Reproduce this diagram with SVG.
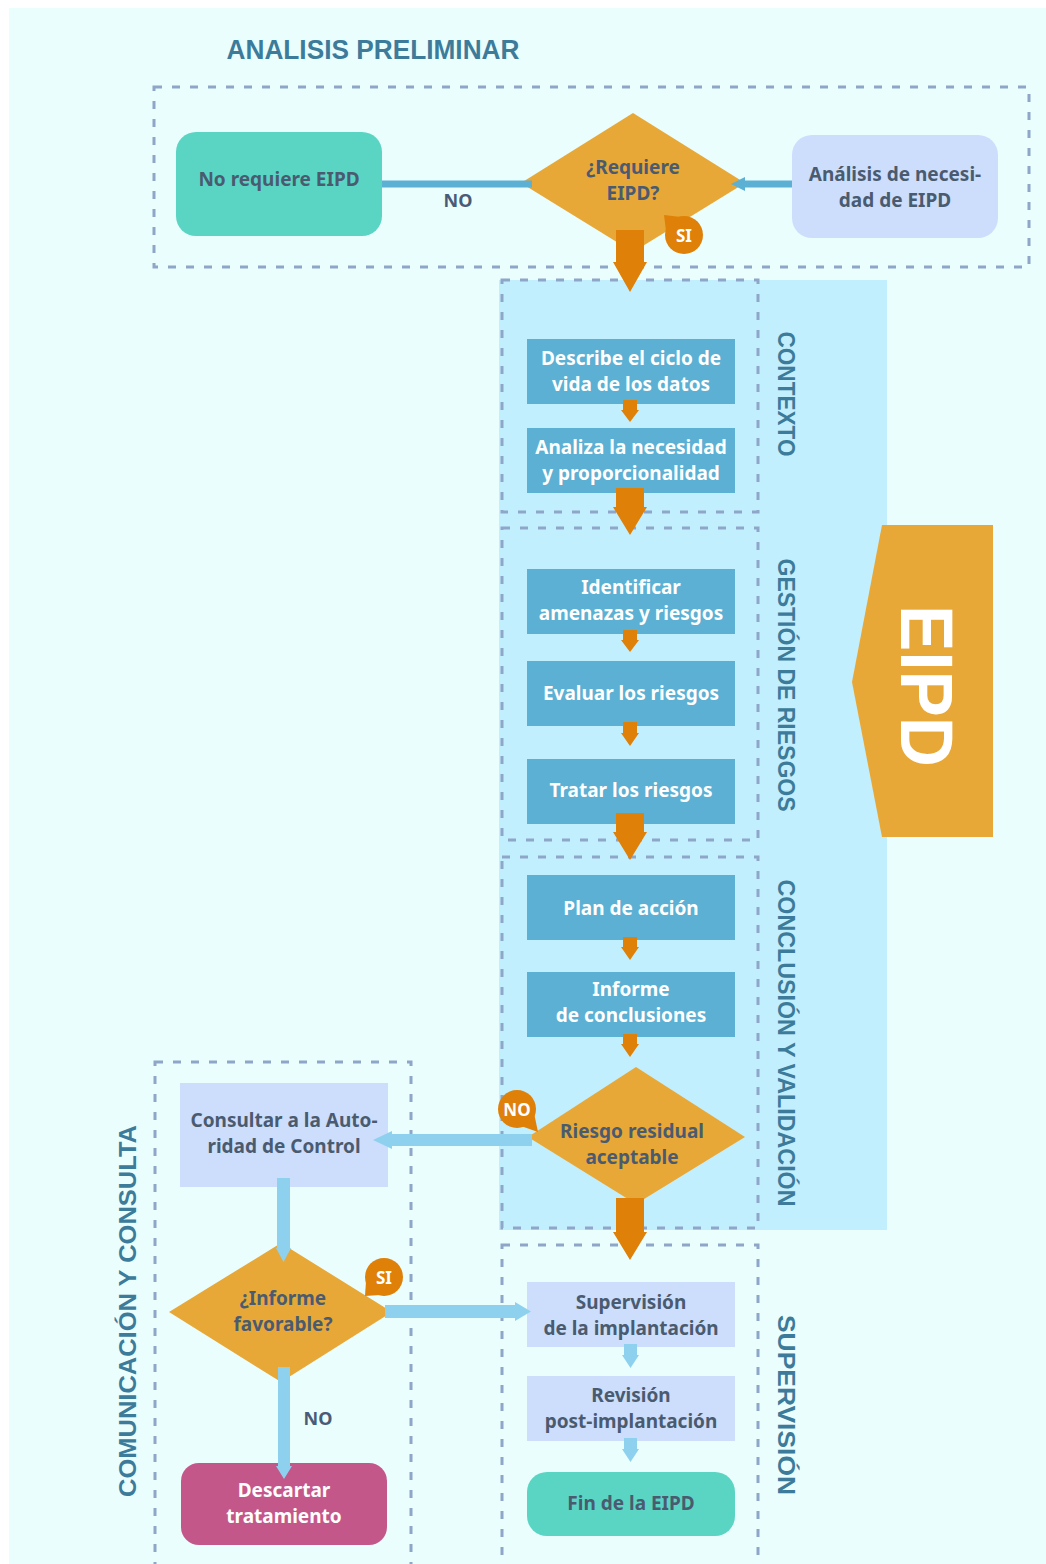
<svg xmlns="http://www.w3.org/2000/svg" width="1046" height="1564" viewBox="0 0 1046 1564">
  <style>
    .frame { fill: none; stroke: #8EA6C8; stroke-width: 3; stroke-dasharray: 8 10; }
    .txt { font-family: "Noto Sans", "Open Sans", "Liberation Sans", sans-serif; font-weight: 700; text-anchor: middle; dominant-baseline: central; }
    .dark { fill: #4A5B70; font-size: 19px; }
    .light { fill: #FFFFFF; font-size: 19px; }
    .lbl { fill: #4A5B78; font-size: 18px; }
    .head { font-family: "Liberation Sans", "Noto Sans", sans-serif; font-weight: 700; fill: #3D7B9A; text-anchor: middle; dominant-baseline: central; }
    .step { fill: #5BB0D3; }
    .pale { fill: #CCDEFC; }
    .teal { fill: #5AD5C4; }
    .diamond { fill: #E8A838; }
    .orange { fill: #DF8008; }
    .sky { fill: #8ED1EF; }
    .badge { fill: #DF8008; }
    .badgetxt { font-family: "Noto Sans", "Liberation Sans", sans-serif; font-weight: 700; fill: #FFFFFF; font-size: 17px; text-anchor: middle; dominant-baseline: central; }
  </style>

  <!-- page background -->
  <rect x="9" y="8" width="1037" height="1556" fill="#EAFEFE"/>

  <!-- EIPD band behind the main column -->
  <rect x="499" y="280" width="388" height="950" fill="#C2EFFD"/>

  <!-- section frames -->
  <g id="frames">
    <rect class="frame" x="154" y="87" width="875" height="180"/>
    <rect class="frame" x="502" y="280" width="256" height="232"/>
    <rect class="frame" x="502" y="528" width="256" height="312"/>
    <rect class="frame" x="502" y="857" width="256" height="371"/>
    <rect class="frame" x="502" y="1245" width="256" height="340"/>
    <rect class="frame" x="155" y="1062" width="256" height="520"/>
  </g>

  <!-- section titles -->
  <g id="titles">
    <text class="head" x="373" y="50" font-size="27" textLength="293" lengthAdjust="spacingAndGlyphs">ANALISIS PRELIMINAR</text>
    <text class="head" font-size="23" transform="translate(786 394) rotate(90)" textLength="125" lengthAdjust="spacingAndGlyphs">CONTEXTO</text>
    <text class="head" font-size="23" transform="translate(786 685) rotate(90)" textLength="253" lengthAdjust="spacingAndGlyphs">GESTIÓN DE RIESGOS</text>
    <text class="head" font-size="23" transform="translate(786 1043) rotate(90)" textLength="327" lengthAdjust="spacingAndGlyphs">CONCLUSIÓN Y VALIDACIÓN</text>
    <text class="head" font-size="23" transform="translate(786 1405) rotate(90)" textLength="180" lengthAdjust="spacingAndGlyphs">SUPERVISIÓN</text>
    <text class="head" font-size="24" transform="translate(127 1311) rotate(-90)" textLength="372" lengthAdjust="spacingAndGlyphs">COMUNICACIÓN Y CONSULTA</text>
  </g>

  <!-- EIPD banner -->
  <g id="eipd-banner">
    <polygon points="882,525 993,525 993,837 882,837 852,682" fill="#E8A838"/>
    <text class="head" style="fill:#FFFFFF" font-size="74" transform="translate(926 686) rotate(90)" textLength="162" lengthAdjust="spacingAndGlyphs">EIPD</text>
  </g>

  <!-- nodes -->
  <g id="no-requiere">
    <rect class="teal" x="176" y="132" width="206" height="104" rx="20"/>
    <text class="txt dark" x="279" y="179">No requiere EIPD</text>
  </g>

  <g id="requiere-eipd">
    <polygon class="diamond" points="633,113 745,183 633,252 521,183"/>
    <text class="txt dark" x="633" y="167">¿Requiere</text>
    <text class="txt dark" x="633" y="193">EIPD?</text>
  </g>

  <g id="analisis-necesidad">
    <rect class="pale" x="792" y="135" width="206" height="103" rx="20"/>
    <text class="txt dark" x="895" y="174">Análisis de necesi-</text>
    <text class="txt dark" x="895" y="200">dad de EIPD</text>
  </g>

  <g id="badge-si-1">
    <polygon class="badge" points="681,217 666,231 664,215"/>
    <circle class="badge" cx="684" cy="235" r="19"/>
    <text class="badgetxt" x="684" y="235">SI</text>
  </g>

  <g id="ciclo-vida">
    <rect class="step" x="527" y="339" width="208" height="65"/>
    <text class="txt light" x="631" y="358">Describe el ciclo de</text>
    <text class="txt light" x="631" y="384">vida de los datos</text>
  </g>

  <g id="necesidad-proporcionalidad">
    <rect class="step" x="527" y="428" width="208" height="65"/>
    <text class="txt light" x="631" y="447">Analiza la necesidad</text>
    <text class="txt light" x="631" y="473">y proporcionalidad</text>
  </g>

  <g id="identificar-amenazas">
    <rect class="step" x="527" y="569" width="208" height="65"/>
    <text class="txt light" x="631" y="587">Identificar</text>
    <text class="txt light" x="631" y="613">amenazas y riesgos</text>
  </g>

  <g id="evaluar-riesgos">
    <rect class="step" x="527" y="661" width="208" height="65"/>
    <text class="txt light" x="631" y="693">Evaluar los riesgos</text>
  </g>

  <g id="tratar-riesgos">
    <rect class="step" x="527" y="759" width="208" height="65"/>
    <text class="txt light" x="631" y="790">Tratar los riesgos</text>
  </g>

  <g id="plan-accion">
    <rect class="step" x="527" y="875" width="208" height="65"/>
    <text class="txt light" x="631" y="908">Plan de acción</text>
  </g>

  <g id="informe-conclusiones">
    <rect class="step" x="527" y="972" width="208" height="65"/>
    <text class="txt light" x="631" y="989">Informe</text>
    <text class="txt light" x="631" y="1015">de conclusiones</text>
  </g>

  <g id="riesgo-residual">
    <polygon class="diamond" points="636,1067 745,1137 636,1204 528,1137"/>
    <text class="txt dark" x="632" y="1131">Riesgo residual</text>
    <text class="txt dark" x="632" y="1157">aceptable</text>
  </g>

  <g id="consultar-autoridad">
    <rect class="pale" x="180" y="1083" width="208" height="104"/>
    <text class="txt dark" x="284" y="1120">Consultar a la Auto-</text>
    <text class="txt dark" x="284" y="1146">ridad de Control</text>
  </g>

  <g id="informe-favorable">
    <polygon class="diamond" points="281,1243 392,1312 281,1382 169,1312"/>
    <text class="txt dark" x="283" y="1298">¿Informe</text>
    <text class="txt dark" x="283" y="1324">favorable?</text>
  </g>

  <g id="descartar-tratamiento">
    <rect x="181" y="1463" width="206" height="82" rx="18" fill="#C4578A"/>
    <text class="txt light" x="284" y="1490">Descartar</text>
    <text class="txt light" x="284" y="1516">tratamiento</text>
  </g>

  <g id="supervision-implantacion">
    <rect class="pale" x="527" y="1282" width="208" height="65"/>
    <text class="txt dark" x="631" y="1302">Supervisión</text>
    <text class="txt dark" x="631" y="1328">de la implantación</text>
  </g>

  <g id="revision-post">
    <rect class="pale" x="527" y="1376" width="208" height="65"/>
    <text class="txt dark" x="631" y="1395">Revisión</text>
    <text class="txt dark" x="631" y="1421">post-implantación</text>
  </g>

  <g id="fin-eipd">
    <rect class="teal" x="527" y="1472" width="208" height="64" rx="20"/>
    <text class="txt dark" x="631" y="1503">Fin de la EIPD</text>
  </g>

  <!-- connectors -->
  <g id="connectors">
    <!-- preliminary analysis -->
    <line x1="382" y1="184" x2="532" y2="184" stroke="#5BB0D3" stroke-width="7"/>
    <line x1="742" y1="184" x2="792" y2="184" stroke="#5BB0D3" stroke-width="7"/>
    <polygon points="731,184 745,177 745,191" fill="#5BB0D3"/>
    <text class="txt lbl" x="458" y="200">NO</text>

    <!-- thick orange flow arrows -->
    <path class="orange" d="M616,230 H644 V262 H647 L630,292 L613,262 H616 Z"/>
    <path class="orange" d="M616,488 H644 V507 H647 L630,535 L613,507 H616 Z"/>
    <path class="orange" d="M616,813 H644 V832 H647 L630,860 L613,832 H616 Z"/>
    <path class="orange" d="M616,1198 H644 V1232 H647 L630,1260 L613,1232 H616 Z"/>

    <!-- small orange step arrows -->
    <path class="orange" d="M623,400 H637 V410 H639 L630,422 L621,410 H623 Z"/>
    <path class="orange" d="M623,630 H637 V640 H639 L630,652 L621,640 H623 Z"/>
    <path class="orange" d="M623,722 H637 V733 H639 L630,746 L621,733 H623 Z"/>
    <path class="orange" d="M623,937 H637 V947 H639 L630,960 L621,947 H623 Z"/>
    <path class="orange" d="M623,1034 H637 V1044 H639 L630,1057 L621,1044 H623 Z"/>

    <!-- light blue arrows -->
    <path class="sky" d="M532,1134 V1146 H392 V1149 L373,1140 L392,1131 V1134 Z"/>
    <path class="sky" d="M277,1178 H290 V1248 H291 L283.5,1262 L276,1248 H277 Z"/>
    <path class="sky" d="M385,1305 V1318 H515 V1321 L531,1311.5 L515,1302 V1305 Z"/>
    <path class="sky" d="M278,1367 H290 V1466 H292 L284,1479 L276,1466 H278 Z"/>
    <path class="sky" d="M624,1344 H637 V1355 H639 L630.5,1368 L622,1355 H624 Z"/>
    <path class="sky" d="M624,1438 H637 V1449 H639 L630.5,1462 L622,1449 H624 Z"/>
    <text class="txt lbl" x="318" y="1418">NO</text>
  </g>

  <!-- decision badges -->
  <g id="badge-no-1">
    <polygon class="badge" points="521,1126 534,1113 538,1132"/>
    <circle class="badge" cx="517" cy="1109" r="19"/>
    <text class="badgetxt" x="517" y="1109">NO</text>
  </g>

  <g id="badge-si-2">
    <polygon class="badge" points="380,1295 366,1281 365,1296"/>
    <circle class="badge" cx="384" cy="1277" r="19"/>
    <text class="badgetxt" x="384" y="1277">SI</text>
  </g>
</svg>
